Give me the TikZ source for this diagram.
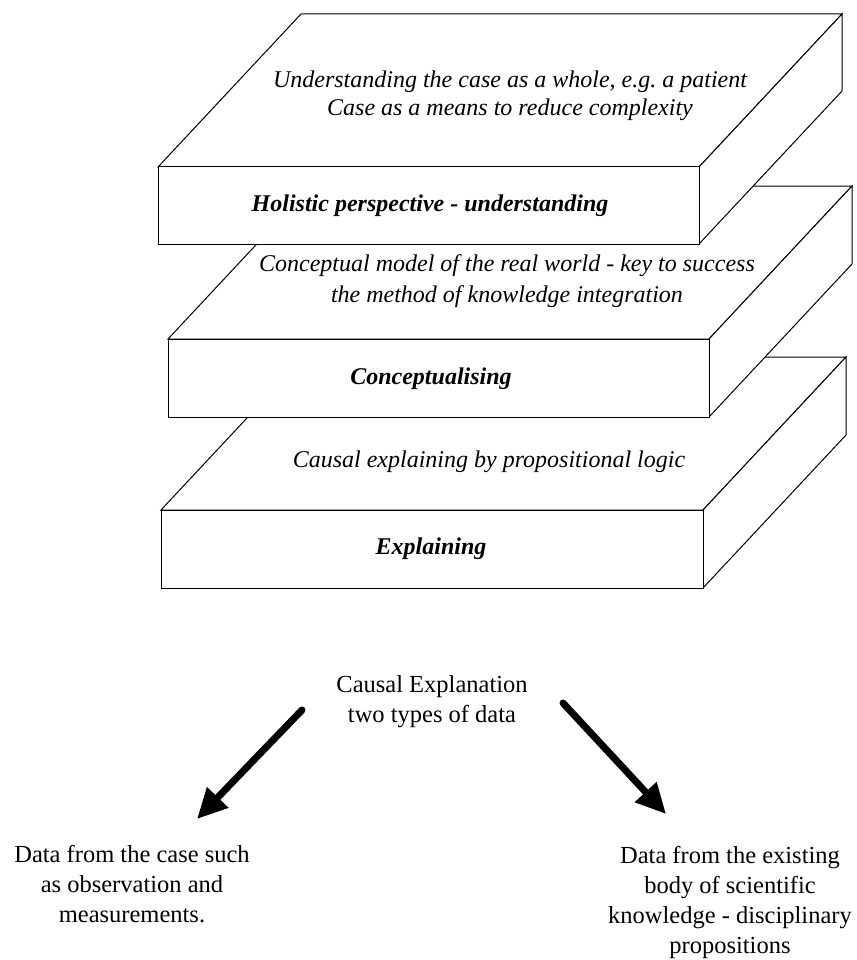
\documentclass[tikz,border=0pt]{standalone}
\usepackage{fontspec}
\setmainfont{Liberation Serif}
\usetikzlibrary{arrows.meta}
\tikzset{
  slabface/.style={draw=black, fill=white, line width=1pt, line join=miter},
  facetext/.style={font=\fontsize{24}{28}\selectfont\itshape, align=center, inner sep=0pt},
  labeltext/.style={font=\fontsize{24}{29}\selectfont\bfseries\itshape, inner sep=0pt},
  plaintext/.style={font=\fontsize{24.5}{30}\selectfont, align=center, inner sep=0pt},
  bigarrow/.style={line width=7pt, line cap=round, -{Triangle[length=30pt,width=28pt]}},
}
\newcommand\myslab[5]{%
  \coordinate (#1-ftl) at (#2,#3);
  \coordinate (#1-ftr) at (#2+#4,#3);
  \coordinate (#1-fbr) at (#2+#4,#3+#5);
  \coordinate (#1-fbl) at (#2,#3+#5);
  \coordinate (#1-btl) at (#2+143,#3-153);
  \coordinate (#1-btr) at (#2+#4+143,#3-153);
  \coordinate (#1-bbr) at (#2+#4+143,#3+#5-153);
  \path[slabface] (#1-ftl) -- (#1-btl) -- (#1-btr) -- (#1-ftr) -- cycle;
  \path[slabface] (#1-ftr) -- (#1-btr) -- (#1-bbr) -- (#1-fbr) -- cycle;
  \path[slabface] (#1-ftl) rectangle (#1-fbr);
}
\begin{document}
\begin{tikzpicture}[x=1pt,y=-1pt]
\useasboundingbox (0,0) rectangle (856,960);
% slabs, drawn back to front
\myslab{sb}{161}{510}{542}{78}
\myslab{sm}{168}{339}{541}{78}
\myslab{st}{158}{167}{541}{77}
% texts on slabs
\node[facetext] (t1) at (510,96) {Understanding the case as a whole, e.g.\ a patient\\Case as a means to reduce complexity};
\node[labeltext] (l1) at (430,206) {Holistic perspective - understanding};
\node[facetext, font=\fontsize{24}{31}\selectfont\itshape] (t2) at (507,281) {Conceptual model of the real world - key to success\\the method of knowledge integration};
\node[labeltext] (l2) at (431,379) {Conceptualising};
\node[facetext] (t3) at (489,462) {Causal explaining by propositional logic};
\node[labeltext] (l3) at (431,549) {Explaining};
% lower part
\node[plaintext] (ce) at (432,702) {Causal Explanation\\two types of data};
\node[plaintext] (dl) at (132,884) {Data from the case such\\as observation and\\measurements.};
\node[plaintext] (dr) at (730,902) {Data from the existing\\body of scientific\\knowledge - disciplinary\\propositions};
\coordinate (a1s) at (302,710);
\coordinate (a1e) at (197,819);
\coordinate (a2s) at (563,703);
\coordinate (a2e) at (666,814);
\draw[bigarrow] (a1s) -- (a1e);
\draw[bigarrow] (a2s) -- (a2e);
\end{tikzpicture}
\end{document}
